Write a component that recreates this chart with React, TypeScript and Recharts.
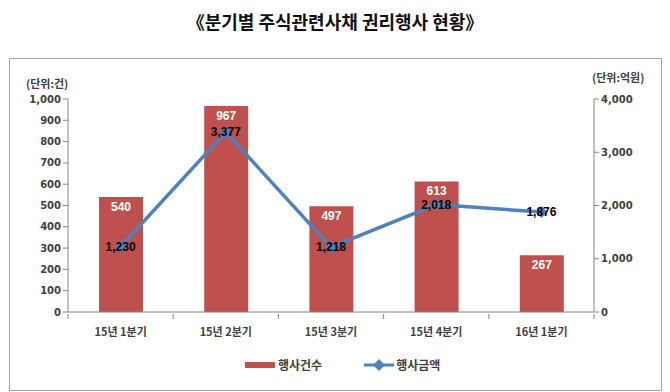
import {
  ComposedChart,
  Bar,
  Line,
  XAxis,
  YAxis,
  LabelList,
} from 'recharts';

const quarters = ['15년 1분기', '15년 2분기', '15년 3분기', '15년 4분기', '16년 1분기'];
const exerciseCount = [540, 967, 497, 613, 267];
const exerciseAmount = [1230, 3377, 1218, 2018, 1876];
const countTicks = [0, 100, 200, 300, 400, 500, 600, 700, 800, 900, 1000];
const amountTicks = [0, 1000, 2000, 3000, 4000];

const data = quarters.map((q, i) => ({
  quarter: q,
  count: exerciseCount[i],
  amount: exerciseAmount[i],
}));

const RED = '#C0504D';
const BLUE = '#4F81BD';
const AXIS = '#868686';
const TEXT = '#404040';
const numFont = '"Liberation Sans", Arial, sans-serif';
const tickFont = '"DejaVu Sans", sans-serif';
const krFont = '"Noto Sans CJK KR", sans-serif';

const fmt = (v: number) => v.toLocaleString('en-US');

const Diamond = (props: any) => {
  const { cx, cy } = props;
  if (cx == null || cy == null) return null;
  const r = 6;
  return (
    <polygon
      points={`${cx},${cy - r} ${cx + r},${cy} ${cx},${cy + r} ${cx - r},${cy}`}
      fill={BLUE}
    />
  );
};

const XTick = (props: any) => {
  const { x, y, payload, index } = props;
  const half = 52.6;
  const axisY = y - 6;
  return (
    <g>
      <line x1={x - half} y1={axisY} x2={x - half} y2={axisY + 5} stroke={AXIS} />
      {index === quarters.length - 1 && (
        <line x1={x + half} y1={axisY} x2={x + half} y2={axisY + 5} stroke={AXIS} />
      )}
      <text
        x={x}
        y={y + 16}
        textAnchor="middle"
        fontFamily={krFont}
        fontWeight={700}
        fontSize={11}
        fill={TEXT}
      >
        {payload.value}
      </text>
    </g>
  );
};

const AmountLabel = (props: any) => {
  const { x, y, value } = props;
  return (
    <text
      x={x}
      y={y + 4}
      textAnchor="middle"
      fontFamily={numFont}
      fontWeight={700}
      fontSize={12}
      fill="#000"
    >
      {fmt(value)}
    </text>
  );
};

export default function App() {
  return (
    <div style={{ position: 'absolute', left: 0, top: 0, width: 670, height: 392, background: '#fff' }}>
      <div
        style={{
          position: 'absolute',
          left: 0,
          top: 8,
          width: 670,
          textAlign: 'center',
          fontFamily: krFont,
          fontWeight: 700,
          fontSize: 18,
          color: '#111',
        }}
      >
        《분기별 주식관련사채 권리행사 현황》
      </div>
      <div
        style={{
          position: 'absolute',
          left: 9,
          top: 58,
          width: 651,
          height: 331,
          border: '1px solid #A6A6A6',
        }}
      />
      <div
        style={{
          position: 'absolute',
          left: 26,
          top: 75,
          fontFamily: krFont,
          fontWeight: 700,
          fontSize: 11,
          color: TEXT,
        }}
      >
        (단위:건)
      </div>
      <div
        style={{
          position: 'absolute',
          left: 592,
          top: 69,
          fontFamily: krFont,
          fontWeight: 700,
          fontSize: 11,
          color: TEXT,
        }}
      >
        (단위:억원)
      </div>
      <div style={{ position: 'absolute', left: 0, top: 0 }}>
        <ComposedChart
          width={670}
          height={392}
          data={data}
          margin={{ top: 99, right: 26, left: 18, bottom: 50 }}
          barSize={44}
        >
          <XAxis
            dataKey="quarter"
            stroke={AXIS}
            tickLine={false}
            tick={<XTick />}
            height={30}
            interval={0}
          />
          <YAxis
            yAxisId="left"
            domain={[0, 1000]}
            ticks={countTicks}
            tickFormatter={fmt}
            stroke={AXIS}
            width={50}
            tickSize={5}
            tick={{ fill: TEXT, fontSize: 10, fontWeight: 700, fontFamily: tickFont }}
            interval={0}
          />
          <YAxis
            yAxisId="right"
            orientation="right"
            domain={[0, 4000]}
            ticks={amountTicks}
            tickFormatter={fmt}
            stroke={AXIS}
            width={50}
            tickSize={5}
            tick={{ fill: TEXT, fontSize: 10, fontWeight: 700, fontFamily: tickFont }}
            interval={0}
          />
          <Bar yAxisId="left" dataKey="count" fill={RED} isAnimationActive={false}>
            <LabelList
              dataKey="count"
              position="insideTop"
              offset={5}
              fill="#fff"
              fontSize={12}
              fontWeight={700}
              fontFamily={numFont}
            />
          </Bar>
          <Line
            yAxisId="right"
            dataKey="amount"
            stroke={BLUE}
            strokeWidth={3.5}
            dot={<Diamond />}
            activeDot={false}
            isAnimationActive={false}
          >
            <LabelList dataKey="amount" content={<AmountLabel />} />
          </Line>
        </ComposedChart>
      </div>
      <div
        style={{
          position: 'absolute',
          left: 245,
          top: 356,
          display: 'flex',
          alignItems: 'center',
          fontFamily: krFont,
          fontWeight: 700,
          fontSize: 12,
          color: TEXT,
        }}
      >
        <svg width={30} height={10} style={{ marginRight: 3 }}>
          <rect x={0} y={2} width={30} height={6} fill={RED} />
        </svg>
        <span>행사건수</span>
        <svg width={30} height={14} style={{ marginLeft: 42, marginRight: 2 }}>
          <line x1={0} y1={7} x2={30} y2={7} stroke={BLUE} strokeWidth={3} />
          <polygon points="15,1 21,7 15,13 9,7" fill={BLUE} />
        </svg>
        <span>행사금액</span>
      </div>
    </div>
  );
}
